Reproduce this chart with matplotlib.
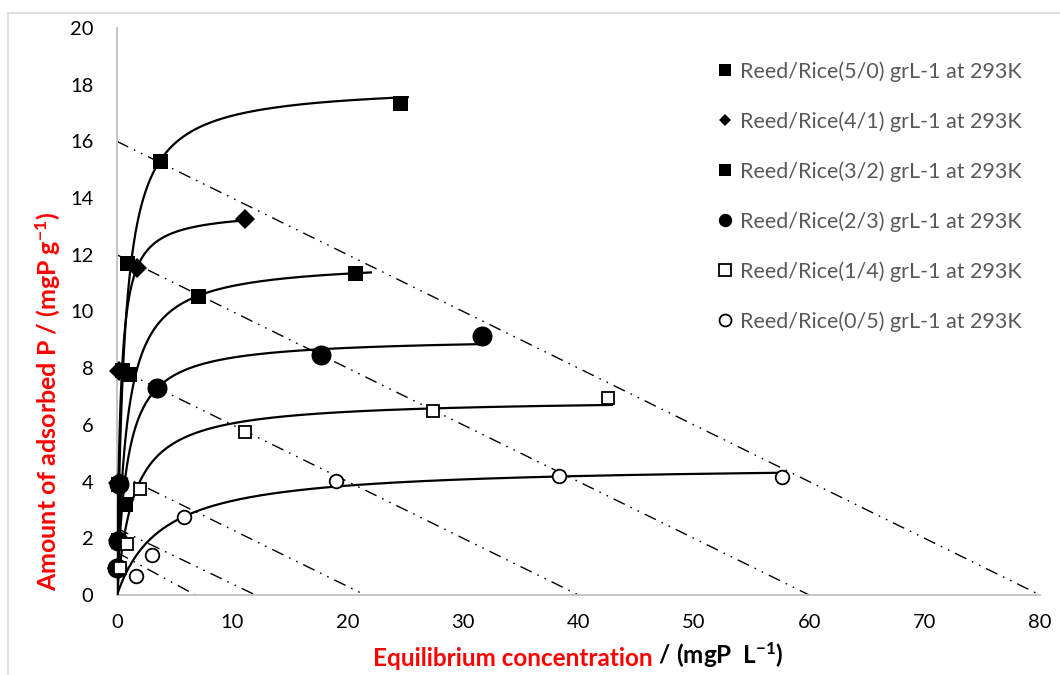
import numpy as np
import matplotlib
matplotlib.use("Agg")
import matplotlib.pyplot as plt
from matplotlib.lines import Line2D

plt.rcParams['font.family'] = ['Lato', 'DejaVu Sans']
plt.rcParams['mathtext.fontset'] = 'custom'
plt.rcParams['mathtext.rm'] = 'Lato:bold'
plt.rcParams['mathtext.it'] = 'Lato:bold'
plt.rcParams['mathtext.bf'] = 'Lato:bold'

# ---- data ---------------------------------------------------------------
labels = ["Reed/Rice(5/0) grL-1 at 293K",
          "Reed/Rice(4/1) grL-1 at 293K",
          "Reed/Rice(3/2) grL-1 at 293K",
          "Reed/Rice(2/3) grL-1 at 293K",
          "Reed/Rice(1/4) grL-1 at 293K",
          "Reed/Rice(0/5) grL-1 at 293K"]

ce_50 = [24.5, 3.7, 0.9, 0.4, 0.1, 0.05]
qe_50 = [17.35, 15.3, 11.7, 7.95, 3.9, 1.95]

ce_41 = [11.1, 1.7, 0.2, 0.1, 0.05, 0.02]
qe_41 = [13.25, 11.55, 7.9, 3.95, 1.95, 0.95]

ce_32 = [20.6, 7.0, 1.0, 0.7, 0.1, 0.05]
qe_32 = [11.35, 10.55, 7.8, 3.2, 1.9, 0.95]

ce_23 = [31.6, 17.7, 3.5, 0.2, 0.05, 0.0]
qe_23 = [9.15, 8.45, 7.3, 3.9, 1.9, 0.95]

ce_14 = [42.6, 27.4, 11.1, 2.0, 0.9, 0.3]
qe_14 = [6.95, 6.5, 5.75, 3.75, 1.8, 0.95]

ce_05 = [57.6, 38.3, 19.0, 5.8, 3.0, 1.65]
qe_05 = [4.15, 4.2, 4.02, 2.75, 1.4, 0.68]

# Langmuir fit parameters (q_max, K_L) and fitted range for each blend
q_max = [18.02, 13.58, 11.81, 9.09, 6.93, 4.60]
k_l = [1.52, 3.26, 1.196, 1.167, 0.69, 0.26]
c_fit_end = [25.3, 11.0, 22.1, 32.0, 43.0, 58.0]

# operating lines: intercepts on the q axis and on the Ce axis
line_q0 = [16.0, 12.0, 8.0, 4.3, 2.35, 1.5]
line_c0 = [80.0, 60.0, 40.0, 21.5, 12.0, 6.8]

x_ticks = [0, 10, 20, 30, 40, 50, 60, 70, 80]
y_ticks = [0, 2, 4, 6, 8, 10, 12, 14, 16, 18, 20]

# ---- styling per series ------------------------------------------------
series_ce = [ce_50, ce_41, ce_32, ce_23, ce_14, ce_05]
series_qe = [qe_50, qe_41, qe_32, qe_23, qe_14, qe_05]
marker_kw = [
    dict(marker='s', ms=10.8, mfc='black', mec='black', mew=0),
    dict(marker='D', ms=10.0, mfc='black', mec='black', mew=0),
    dict(marker='s', ms=10.8, mfc='black', mec='black', mew=0),
    dict(marker='o', ms=14.4, mfc='black', mec='black', mew=0),
    dict(marker='s', ms=9.0, mfc='white', mec='black', mew=1.3),
    dict(marker='o', ms=9.8, mfc='white', mec='black', mew=1.3),
]
legend_kw = [
    dict(marker='s', ms=9.0, mfc='black', mec='black', mew=0),
    dict(marker='D', ms=6.4, mfc='black', mec='black', mew=0),
    dict(marker='s', ms=9.0, mfc='black', mec='black', mew=0),
    dict(marker='o', ms=9.6, mfc='black', mec='black', mew=0),
    dict(marker='s', ms=8.2, mfc='white', mec='black', mew=1.3),
    dict(marker='o', ms=8.6, mfc='white', mec='black', mew=1.3),
]

fig = plt.figure(figsize=(10.6, 6.75), dpi=100)
ax = fig.add_axes([117 / 1060, 1 - 595 / 675, 923 / 1060, 567 / 675])

# operating lines (long dash - dot - dot)
for q0, c0 in zip(line_q0, line_c0):
    ax.plot([0, c0], [q0, 0], color='black', lw=1.0,
            linestyle=(0, (9, 4.5, 1.2, 4.5, 1.2, 4.5)), zorder=2)

# Langmuir curves
for qm, kl, cend in zip(q_max, k_l, c_fit_end):
    c = np.concatenate([np.linspace(0, 1, 400), np.linspace(1, cend, 600)[1:]])
    q = qm * kl * c / (1 + kl * c)
    ax.plot(c, q, color='black', lw=1.6, zorder=3, solid_capstyle='butt')

# measured points
for ce, qe, kw in zip(series_ce, series_qe, marker_kw):
    ax.plot(ce, qe, linestyle='none', zorder=4, clip_on=False, **kw)

ax.set_xlim(0, 80)
ax.set_ylim(0, 20)
ax.set_xticks(x_ticks)
ax.set_yticks(y_ticks)
ax.tick_params(axis='both', length=0, labelsize=14.5, labelcolor='black')
ax.tick_params(axis='x', pad=14)
ax.tick_params(axis='y', pad=17)
for s in ('top', 'right'):
    ax.spines[s].set_visible(False)
for s in ('left', 'bottom'):
    ax.spines[s].set_color('#c0c0c0')
    ax.spines[s].set_linewidth(1.3)

# axis titles
fig.text(48 / 1060, 1 - 401 / 675, r"Amount of adsorbed P / (mgP g$^{-1}$)",
         rotation=90, ha='center', va='center', color='#ff0000',
         fontsize=18, fontweight='bold')
t1 = fig.text(373 / 1060, 1 - 658 / 675, "Equilibrium concentration",
              ha='left', va='center', color='#ff0000',
              fontsize=17.5, fontweight='bold')
ax.annotate(r" / (mgP  L$^{-1}$)", xy=(1, 0), xycoords=t1,
            ha='left', va='bottom', color='black',
            fontsize=17.5, fontweight='bold')

# legend
handles = [Line2D([], [], linestyle='none', **kw) for kw in legend_kw]
leg = ax.legend(handles, labels, loc='upper left',
                bbox_to_anchor=(717 / 1060, 1 - 61 / 675),
                bbox_transform=fig.transFigure, frameon=False,
                fontsize=15.5, labelcolor='#595959', handlelength=0.75,
                handletextpad=0.3, labelspacing=1.37, borderpad=0,
                borderaxespad=0)

# chart-area border
fig.add_artist(Line2D([8 / 1060, 8 / 1060], [0, 1 - 13 / 675],
                      transform=fig.transFigure, color='#d9d9d9', lw=1.2))
fig.add_artist(Line2D([8 / 1060, 1], [1 - 13 / 675, 1 - 13 / 675],
                      transform=fig.transFigure, color='#d9d9d9', lw=1.2))

fig.savefig("out.png", dpi=100)
